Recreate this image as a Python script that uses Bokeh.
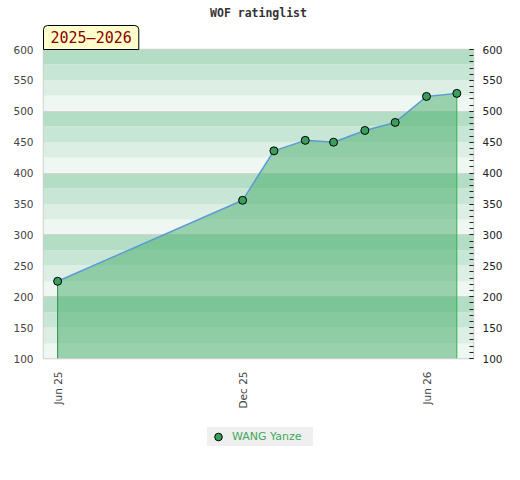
from datetime import datetime
import numpy as np
import pandas as pd
from bokeh.plotting import figure
from bokeh.layouts import column
from bokeh.models import (Range1d, LinearAxis, SingleIntervalTicker, FixedTicker,
                          DatetimeTickFormatter, Legend, LegendItem, Title)
from bokeh.embed import file_html
from bokeh.resources import INLINE

# ---------------- data ----------------
title_text = "WOF ratinglist"
season_text = "2025\u20132026"
player = "WANG Yanze"
dates = ["2025-06-01", "2025-12-01", "2026-01-01", "2026-02-01", "2026-03-01",
         "2026-04-01", "2026-05-01", "2026-06-01", "2026-07-01"]
ratings = [225, 356, 436, 453, 450, 469, 482, 524, 529]
x_tick_dates = ["2025-06-01", "2025-12-01", "2026-06-01"]
x_start, x_end = "2025-05-18", "2026-07-17 12:00"
y_min, y_max = 100, 600
band_step = 25
grid_step = 100

# ---------------- styles ----------------
band_colors = ["#eff7f2", "#ddeee4", "#c8e6d5", "#b3dec5"]
fill_color = "#43ac67"
line_color = "#5b9bd5"
marker_color = "#3a9e5c"
legend_text_color = "#3daa5c"

xd = pd.to_datetime(dates)
xs = pd.Timestamp(x_start)
xe = pd.Timestamp(x_end)

W = 510
p = figure(frame_width=430, frame_height=309, x_axis_type="datetime",
           x_range=Range1d(xs, xe), y_range=Range1d(y_min, y_max),
           output_backend="svg", toolbar_location=None,
           min_border_left=43, min_border_right=37, min_border_top=49,
           min_border_bottom=60)
p.background_fill_color = "white"
p.border_fill_color = "white"
p.outline_line_color = "#d0d0d0"
p.outline_line_width = 1.5
p.xgrid.visible = False
p.ygrid.visible = False

# season box (closest to frame) and main title above it
season = Title(text=season_text, align="left", standoff=0, offset=0,
               text_font="DejaVu Sans Mono", text_font_size="15px",
               text_font_style="normal", text_color="#8b0000",
               background_fill_color="#ffffcc", border_line_color="black",
               border_line_width=1,
               padding=dict(left=7, right=7, top=3, bottom=3),
               border_radius=dict(top_left=4, top_right=4, bottom_right=0, bottom_left=0))
p.add_layout(season, "above")
main_title = Title(text=title_text, align="center", standoff=7,
                   text_font="DejaVu Sans Mono", text_font_size="11.5px",
                   text_font_style="bold", text_color="#333333")
p.add_layout(main_title, "above")

# background bands
lows = list(range(y_min, y_max, band_step))
highs = [v + band_step for v in lows]
cols = [band_colors[i % len(band_colors)] for i in range(len(lows))]
p.hstrip(y0=lows, y1=highs, fill_color=cols, line_color=None)
p.hspan(y=list(range(y_min + grid_step, y_max, grid_step)), line_color="#d4d4d4", line_width=1)

# area + line + markers
p.varea(x=xd, y1=y_min, y2=ratings, fill_color=fill_color, fill_alpha=0.5)
p.segment(x0=[xd[0]], y0=[ratings[0]], x1=[xd[0]], y1=[y_min], line_color="#2e8b4e", line_width=1)
p.segment(x0=[xd[-1]], y0=[ratings[-1]], x1=[xd[-1]], y1=[y_min], line_color="#33b04f", line_width=1)
p.line(xd, ratings, line_color=line_color, line_width=1.5)
p.scatter(xd, ratings, size=8, fill_color=marker_color, line_color="black", line_width=1)

# x axis
p.xaxis.ticker = FixedTicker(ticks=[pd.Timestamp(d).value / 1e6 for d in x_tick_dates])
fmt = "%b %y"
p.xaxis.formatter = DatetimeTickFormatter(years=fmt, months=fmt, days=fmt, hours=fmt)
p.xaxis.major_label_orientation = np.pi / 2
p.xaxis.axis_line_color = None
p.xaxis.major_tick_line_color = None
p.xaxis.minor_tick_line_color = None
p.xaxis.major_tick_out = 0
p.xaxis.major_tick_in = 0
p.xaxis.minor_tick_out = 0
p.xaxis.major_label_standoff = 13
p.xaxis.major_label_text_font = "DejaVu Sans"
p.xaxis.major_label_text_font_size = "10.5px"
p.xaxis.major_label_text_color = "#444444"

# left axis
p.yaxis.ticker = SingleIntervalTicker(interval=50, num_minor_ticks=0)
p.yaxis.axis_line_color = None
p.yaxis.major_tick_line_color = None
p.yaxis.minor_tick_line_color = None
p.yaxis.major_tick_out = 0
p.yaxis.major_tick_in = 0
p.yaxis.minor_tick_out = 0
p.yaxis.major_label_standoff = 10
p.yaxis.major_label_text_font = "DejaVu Sans"
p.yaxis.major_label_text_font_size = "10.5px"
p.yaxis.major_label_text_color = "#444444"

# right axis
ra = LinearAxis(ticker=SingleIntervalTicker(interval=50, num_minor_ticks=5),
                axis_line_color=None, major_tick_in=4, major_tick_out=0,
                minor_tick_in=4, minor_tick_out=0,
                major_tick_line_color="#222222", minor_tick_line_color="#222222",
                major_label_standoff=9, major_label_text_font="DejaVu Sans",
                major_label_text_font_size="10.5px", major_label_text_color="#222222")
p.add_layout(ra, "right")

# legend strip below the chart (frame aligned with the main chart's frame)
p2 = figure(width=W, height=40, x_range=Range1d(0, 1), y_range=Range1d(0, 1),
            x_axis_location=None, y_axis_location=None,
            output_backend="svg", toolbar_location=None, min_border=0)
p2.grid.visible = False
p2.outline_line_color = None
p2.background_fill_color = "white"
p2.border_fill_color = "white"
# legend swatch source: a single off-range point so the swatch is drawn
dummy = p2.scatter(x=[2], y=[2], size=6, fill_color=marker_color, line_color="black", line_width=1)
legend = Legend(items=[LegendItem(label=player, renderers=[dummy])],
                location=(164, 12), orientation="horizontal",
                background_fill_color="#efefef", background_fill_alpha=1,
                border_line_color=None, label_text_color=legend_text_color,
                label_text_font="DejaVu Sans", label_text_font_size="11px",
                glyph_width=22, glyph_height=19, label_height=19, label_width=81,
                label_standoff=3, padding=0, spacing=0, margin=0)
p2.add_layout(legend)

layout = column(p, p2, spacing=0)
open("out.html", "w").write(file_html(layout, INLINE))
